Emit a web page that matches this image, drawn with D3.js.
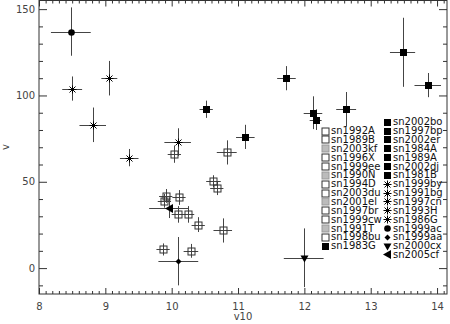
<!DOCTYPE html>
<html lang="en">
  <head>
    <meta charset="utf-8" />
    <script src="https://cdn.jsdelivr.net/npm/d3@7/dist/d3.min.js"></script>
    <title>v vs v10</title>
    <style>
      body { margin: 0; background: #fff; }
      text { font-family: "DejaVu Sans", sans-serif; }
    </style>
  </head>
  <body>
    <div id="container"></div>

    <script>
      // points: v10, v, errors and symbol kind
      const v10 = [8.48, 8.50, 9.06, 8.81, 9.36, 10.09,
        10.52, 11.11, 11.73, 12.13, 12.17, 12.63, 13.48, 13.86,
        10.04, 10.83, 10.63, 10.68, 9.91, 9.89, 10.11, 10.10, 10.24, 10.40, 10.77, 9.87, 10.29,
        9.96, 10.10, 11.99];
      const v = [137, 104, 110, 83, 64, 73,
        92, 76, 110, 90, 86, 92, 125, 106,
        66, 67, 50.3, 46.3, 41.8, 39, 40.9, 31.1, 31.1, 25.2, 21.8, 10.8, 10,
        35, 4, 6];
      const v10Err = [0.3, 0.15, 0.12, 0.2, 0.14, 0.2,
        0.1, 0.14, 0.14, 0.14, 0.09, 0.15, 0.19, 0.2,
        0.1, 0.15, 0.11, 0.1, 0.1, 0.1, 0.1, 0.1, 0.1, 0.1, 0.14, 0.1, 0.11,
        0.3, 0.3, 0.3];
      const vErr = [14, 7, 10, 10, 5, 8,
        5, 7, 7, 9.5, 6, 10, 20, 7,
        5, 7, 3.5, 4, 4, 4, 4.3, 4.8, 4.8, 4.3, 7, 3.5, 4,
        6, 14, 17];
      const sym = ["circle", "star", "star", "star", "star", "star",
        "filled", "filled", "filled", "filled", "filled", "filled", "filled", "filled",
        "open", "open", "open", "open", "open", "open", "open", "open", "open", "open", "open", "open", "open",
        "left", "diamond", "down"];

      // legend
      const legendLeft = ["sn1992A", "sn1989B", "sn2003kf", "sn1996X", "sn1999ee", "sn1990N", "sn1994D",
        "sn2003du", "sn2001el", "sn1997br", "sn1999cw", "sn1991T", "sn1998bu", "sn1983G"];
      const legendLeftSym = ["open", "open", "gray", "open", "open", "gray", "open",
        "open", "gray", "open", "open", "gray", "open", "filled"];
      const legendRight = ["sn2002bo", "sn1997bp", "sn2002er", "sn1984A", "sn1989A", "sn2002dj", "sn1981B",
        "sn1999by", "sn1991bg", "sn1997cn", "sn1993H", "sn1986G", "sn1999ac", "sn1999aa", "sn2000cx", "sn2005cf"];
      const legendRightSym = ["filled", "filled", "filled", "filled", "filled", "filled", "filled",
        "star", "star", "star", "star", "star", "circle", "diamond", "down", "left"];

      const xMajor = [8, 9, 10, 11, 12, 13, 14];
      const yMajor = [0, 50, 100, 150];

      const width = 450, height = 324;
      const pLeft = 39, pRight = 447, pTop = 0.5, pBottom = 294;

      const svg = d3.select("#container").append("svg").attr("width", width).attr("height", height);

      const x = d3.scaleLinear().domain([8, 14.15]).range([pLeft, pRight]);
      const y = d3.scaleLinear().domain([-15, 155]).range([pBottom, pTop]);

      const ink = "#333";

      // axes
      const xMinor = d3.range(80, 142).map((d) => d / 10).filter((d) => d % 1 !== 0);
      const yMinor = d3.range(-10, 155, 10).filter((d) => d % 50 !== 0);

      function styleAxis(g) {
        g.select(".domain").remove();
        g.selectAll("line").attr("stroke", ink);
        g.selectAll("text").attr("fill", "#444").style("font-size", "10px").style("font-family", "DejaVu Sans");
      }

      svg.append("g").attr("transform", `translate(0,${pBottom})`)
        .call(d3.axisBottom(x).tickValues(xMajor).tickSize(-6).tickPadding(9).tickFormat(d3.format("d")))
        .call(styleAxis);
      svg.append("g").attr("transform", `translate(0,${pBottom})`)
        .call(d3.axisBottom(x).tickValues(xMinor).tickSize(-3).tickFormat(""))
        .call(styleAxis);
      svg.append("g").attr("transform", `translate(0,${pTop})`)
        .call(d3.axisTop(x).tickValues(xMajor).tickSize(-6).tickFormat(""))
        .call(styleAxis);
      svg.append("g").attr("transform", `translate(0,${pTop})`)
        .call(d3.axisTop(x).tickValues(xMinor).tickSize(-3).tickFormat(""))
        .call(styleAxis);

      svg.append("g").attr("transform", `translate(${pLeft},0)`)
        .call(d3.axisLeft(y).tickValues(yMajor).tickSize(-8).tickPadding(4).tickFormat(d3.format("d")))
        .call(styleAxis);
      svg.append("g").attr("transform", `translate(${pLeft},0)`)
        .call(d3.axisLeft(y).tickValues(yMinor).tickSize(-4).tickFormat(""))
        .call(styleAxis);
      svg.append("g").attr("transform", `translate(${pRight},0)`)
        .call(d3.axisRight(y).tickValues(yMajor).tickSize(-8).tickFormat(""))
        .call(styleAxis);
      svg.append("g").attr("transform", `translate(${pRight},0)`)
        .call(d3.axisRight(y).tickValues(yMinor).tickSize(-4).tickFormat(""))
        .call(styleAxis);

      svg.append("rect")
        .attr("x", pLeft).attr("y", pTop)
        .attr("width", pRight - pLeft).attr("height", pBottom - pTop)
        .attr("fill", "none").attr("stroke", ink);

      svg.append("text").attr("x", (pLeft + pRight) / 2).attr("y", 320)
        .attr("text-anchor", "middle").attr("fill", "#444").style("font-size", "10px").text("v10");
      svg.append("text").attr("transform", `translate(9,147) rotate(-90)`)
        .attr("text-anchor", "middle").attr("fill", "#444").style("font-size", "10px").text("v");

      // symbol drawing
      function drawSymbol(g, kind, cx, cy) {
        if (kind === "open" || kind === "gray") {
          g.append("rect").attr("x", cx - 3.5).attr("y", cy - 3.5).attr("width", 7).attr("height", 7)
            .attr("fill", kind === "gray" ? "#bbb" : "none").attr("stroke", kind === "gray" ? "#999" : ink);
        } else if (kind === "filled") {
          g.append("rect").attr("x", cx - 3.5).attr("y", cy - 3.5).attr("width", 7).attr("height", 7)
            .attr("fill", "#000");
        } else if (kind === "circle") {
          g.append("circle").attr("cx", cx).attr("cy", cy).attr("r", 3.3).attr("fill", "#000");
        } else if (kind === "diamond") {
          g.append("path").attr("d", `M${cx},${cy - 3}L${cx + 3},${cy}L${cx},${cy + 3}L${cx - 3},${cy}Z`).attr("fill", "#000");
        } else if (kind === "down") {
          g.append("path").attr("d", `M${cx - 4},${cy - 3}L${cx + 4},${cy - 3}L${cx},${cy + 4}Z`).attr("fill", "#000");
        } else if (kind === "left") {
          g.append("path").attr("d", `M${cx - 4.5},${cy}L${cx + 3.5},${cy - 4.5}L${cx + 3.5},${cy + 4.5}Z`).attr("fill", "#000");
        } else if (kind === "star") {
          const r = 4;
          const d = r * 0.75;
          g.append("path")
            .attr("d", `M${cx - r},${cy}H${cx + r}M${cx},${cy - r}V${cy + r}M${cx - d},${cy - d}L${cx + d},${cy + d}M${cx - d},${cy + d}L${cx + d},${cy - d}`)
            .attr("stroke", "#000").attr("fill", "none");
        }
      }

      // error bars
      const idx = d3.range(v10.length);
      const bars = svg.append("g").attr("stroke", "#444").attr("stroke-width", 1);
      bars.selectAll("line.h").data(idx).join("line").attr("class", "h")
        .attr("x1", (i) => x(v10[i] - v10Err[i])).attr("x2", (i) => x(v10[i] + v10Err[i]))
        .attr("y1", (i) => Math.round(y(v[i])) + 0.5).attr("y2", (i) => Math.round(y(v[i])) + 0.5);
      bars.selectAll("line.v").data(idx).join("line").attr("class", "v")
        .attr("x1", (i) => Math.round(x(v10[i])) + 0.5).attr("x2", (i) => Math.round(x(v10[i])) + 0.5)
        .attr("y1", (i) => y(v[i] - vErr[i])).attr("y2", (i) => y(v[i] + vErr[i]));

      const marks = svg.append("g");
      idx.forEach((i) => drawSymbol(marks, sym[i], Math.round(x(v10[i])) + 0.5, Math.round(y(v[i])) + 0.5));

      // legend
      const leg = svg.append("g");
      const row0 = 121.7, step = 8.85;
      legendRight.forEach((name, i) => {
        const cy = row0 + i * step;
        drawSymbol(leg, legendRightSym[i], 387.5, Math.round(cy) + 0.5);
        leg.append("text").attr("x", 393).attr("y", cy + 3.6).attr("fill", "#111").style("font-size", "10px").text(name);
      });
      legendLeft.forEach((name, i) => {
        const cy = row0 + (i + 1) * step;
        drawSymbol(leg, legendLeftSym[i], 325.5, Math.round(cy) + 0.5);
        leg.append("text").attr("x", 331).attr("y", cy + 3.6).attr("fill", "#111").style("font-size", "10px").text(name);
      });
    </script>
  </body>
</html>
